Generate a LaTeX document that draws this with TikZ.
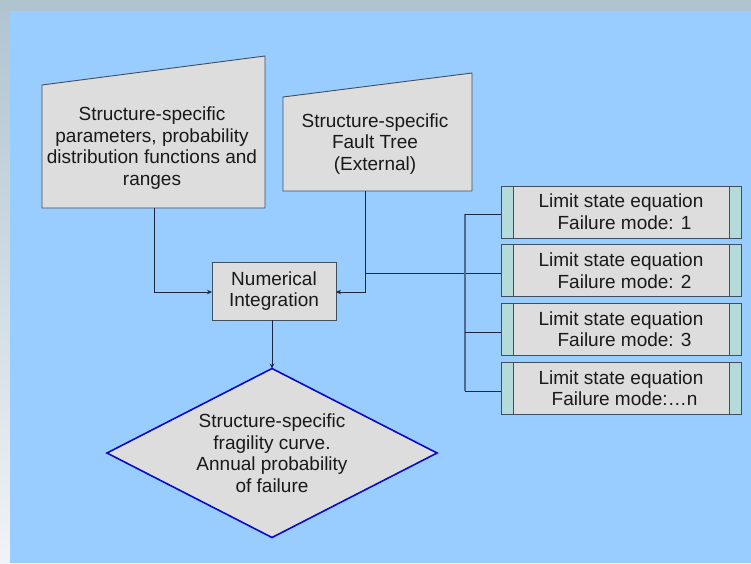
\documentclass[tikz,border=0pt]{standalone}
\usepackage{fontspec}
\setmainfont{Liberation Sans}
\usetikzlibrary{shapes.geometric,arrows.meta}
\definecolor{outerbg}{HTML}{B0C4D0}
\definecolor{outerlow}{HTML}{F0F3F7}
\definecolor{panel}{HTML}{99CCFF}
\definecolor{boxfill}{HTML}{DDDDDD}
\definecolor{boxline}{HTML}{3F4F5F}
\definecolor{stripfill}{HTML}{B4DADA}
\definecolor{conn}{HTML}{1C2641}
\definecolor{busline}{HTML}{51698C}
\definecolor{diamline}{HTML}{0A0ACD}
\begin{document}
\begin{tikzpicture}[x=1pt,y=-1pt,
  txt/.style={align=center,font=\fontsize{19}{21.6}\selectfont,text=black!90,inner sep=0pt},
  shapebox/.style={draw=boxline,fill=boxfill,line width=0.9pt},
  numbox/.style={txt,shapebox,rectangle,minimum width=124pt,minimum height=58pt,outer sep=0pt},
  limbox/.style={txt,shapebox,rectangle,minimum width=240pt,minimum height=52pt,outer sep=0pt,
    path picture={
      \fill[stripfill] (path picture bounding box.north west) rectangle ([xshift=12pt]path picture bounding box.south west);
      \fill[stripfill] (path picture bounding box.north east) rectangle ([xshift=-12pt]path picture bounding box.south east);
      \draw[boxline,line width=0.9pt] ([xshift=12pt]path picture bounding box.north west) -- ([xshift=12pt]path picture bounding box.south west);
      \draw[boxline,line width=0.9pt] ([xshift=-12pt]path picture bounding box.north east) -- ([xshift=-12pt]path picture bounding box.south east);
    }},
  diam/.style={txt,diamond,aspect=1.953,draw=diamline,fill=boxfill,line width=1.6pt,minimum width=330pt,minimum height=169pt,outer sep=0pt},
  connector/.style={draw=conn,line width=0.9pt},
  arr/.style={connector,-{Stealth[length=5pt,width=4.5pt]}},
  bus/.style={draw=busline,line width=1.2pt}
]
\useasboundingbox (0,0) rectangle (751,563);
% background
\shade[top color=outerbg,bottom color=outerlow] (0,0) rectangle (751,563);
\fill[outerbg] (0,0) rectangle (751,11);
\fill[panel] (10,11) rectangle (751,563);

% manual input shapes
\draw[shapebox] (42,85) -- (265,56) -- (265,208) -- (42,208) -- cycle;
\node[txt] (paramtxt) at (152,148) {Structure-specific\\parameters, probability\\distribution functions and\\ranges};
\draw[shapebox] (283,97) -- (472,73) -- (472,191) -- (283,191) -- cycle;
\node[txt] (faulttxt) at (375,144) {Structure-specific\\Fault Tree\\(External)};
\coordinate (pbot) at (154,208);
\coordinate (fbot) at (365,191);

% numerical integration
\node[numbox] (num) at (274,291) {Numerical\\Integration};

% limit state boxes
\node[limbox] (lim1) at (621,212) {Limit state equation\\\hspace*{7pt}Failure mode: 1};
\node[limbox] (lim2) at (621,270.5) {Limit state equation\\\hspace*{7pt}Failure mode: 2};
\node[limbox] (lim3) at (621,329) {Limit state equation\\\hspace*{7pt}Failure mode: 3};
\node[limbox] (lim4) at (621,388) {Limit state equation\\\hspace*{7pt}Failure mode:\ldots n};

% diamond
\node[diam] (frag) at (272,453) {Structure-specific\\fragility curve.\\Annual probability\\of failure};

% connectors
\draw[arr] (pbot) |- (154,292) -- (num.west |- 0,292);
\draw[arr] (fbot) |- (365,292) -- (num.east |- 0,292);
\coordinate (fjoin) at (365,273);
\draw[connector] (fjoin) -- (fjoin -| lim2.west);
\coordinate (b1) at (465,214);
\coordinate (b3) at (465,332);
\coordinate (b4) at (465,391);
\draw[bus] (b1) -- (b4);
\draw[connector] (b1) -- (b1 -| lim1.west);
\draw[connector] (b3) -- (b3 -| lim3.west);
\draw[connector] (b4) -- (b4 -| lim4.west);
\draw[arr] (frag.north |- num.south) -- (frag.north);
\end{tikzpicture}
\end{document}
